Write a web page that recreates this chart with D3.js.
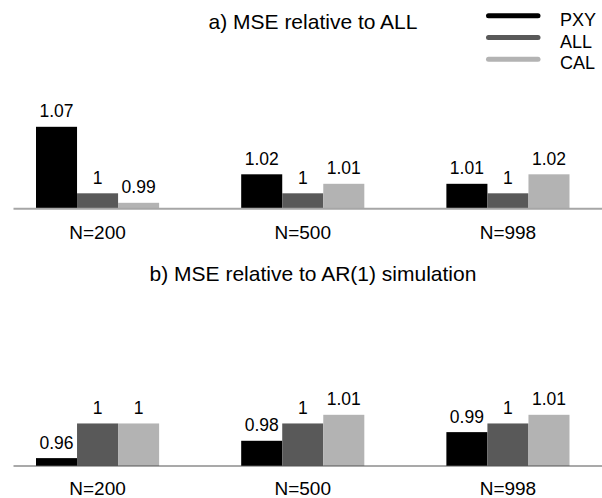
<!DOCTYPE html>
<html>
<head>
<meta charset="utf-8">
<script src="https://cdn.jsdelivr.net/npm/d3@7/dist/d3.min.js"></script>
<style>
  html, body { margin: 0; padding: 0; background: #fff; }
  svg { display: block; }
  text { font-family: "Liberation Sans", Arial, sans-serif; fill: #000; }
</style>
</head>
<body>
<svg id="chart" width="602" height="498"></svg>
<script>
// Sample sizes shown along each panel
const categories = ["N=200", "N=500", "N=998"];
// Methods compared, drawn left to right inside each group
const seriesNames = ["PXY", "ALL", "CAL"];
const seriesColors = ["#000000", "#595959", "#b3b3b3"];

// Panel a: MSE relative to ALL
const relAllPXY = [1.07, 1.02, 1.01];
const relAllALL = [1, 1, 1];
const relAllCAL = [0.99, 1.01, 1.02];

// Panel b: MSE relative to AR(1) simulation
const relArPXY = [0.96, 0.98, 0.99];
const relArALL = [1, 1, 1];
const relArCAL = [1, 1.01, 1.01];

const panelTitles = ["a) MSE relative to ALL", "b) MSE relative to AR(1) simulation"];

const svg = d3.select("#chart");
const W = 602;
const fmt = d3.format(".2~f");

const x0 = d3.scaleBand().domain(categories).range([36, 569.5]).paddingInner(0.4).paddingOuter(0);
const x1 = d3.scaleBand().domain(seriesNames).range([0, x0.bandwidth()]).padding(0);
const color = d3.scaleOrdinal().domain(seriesNames).range(seriesColors);

const panels = [
  {
    title: panelTitles[0], titleY: 28.5,
    series: [relAllPXY, relAllALL, relAllCAL],
    y: d3.scaleLinear().domain([0.9838, 1.07]).range([208.7, 126.8]),
    axisColor: "#a6a6a6", axisWidth: 2, catY: 239
  },
  {
    title: panelTitles[1], titleY: 281,
    series: [relArPXY, relArALL, relArCAL],
    y: d3.scaleLinear().domain([0.9509, 1.01]).range([466, 414.8]),
    axisColor: "#555555", axisWidth: 1.2, catY: 495
  }
];

panels.forEach(p => {
  const g = svg.append("g");
  const base = p.y.range()[0];

  g.append("text")
    .attr("x", 313).attr("y", p.titleY)
    .attr("text-anchor", "middle")
    .style("font-size", "21px")
    .text(p.title);

  const rows = categories.map((c, i) => ({
    cat: c,
    vals: seriesNames.map((s, j) => ({ name: s, value: p.series[j][i] }))
  }));

  const groups = g.selectAll("g.grp").data(rows).join("g")
    .attr("class", "grp")
    .attr("transform", d => `translate(${x0(d.cat)},0)`);

  groups.selectAll("rect").data(d => d.vals).join("rect")
    .attr("x", d => x1(d.name))
    .attr("width", x1.bandwidth())
    .attr("y", d => p.y(d.value))
    .attr("height", d => base - p.y(d.value))
    .attr("fill", d => color(d.name));

  groups.selectAll("text.val").data(d => d.vals).join("text")
    .attr("class", "val")
    .attr("x", d => x1(d.name) + x1.bandwidth() / 2)
    .attr("y", d => p.y(d.value) - 9.5)
    .attr("text-anchor", "middle")
    .style("font-size", "17.5px")
    .text(d => fmt(d.value));

  g.append("line")
    .attr("x1", 13.5).attr("x2", W)
    .attr("y1", base).attr("y2", base)
    .attr("stroke", p.axisColor)
    .attr("stroke-width", p.axisWidth);

  groups.append("text")
    .attr("x", x0.bandwidth() / 2)
    .attr("y", p.catY)
    .attr("text-anchor", "middle")
    .style("font-size", "19px")
    .text(d => d.cat);
});

// Legend
const legend = svg.append("g");
const legendY = d3.scalePoint().domain(seriesNames).range([15.7, 59.3]);
seriesNames.forEach(s => {
  legend.append("line")
    .attr("x1", 488.5).attr("x2", 538)
    .attr("y1", legendY(s)).attr("y2", legendY(s))
    .attr("stroke", color(s))
    .attr("stroke-width", 5)
    .attr("stroke-linecap", "round");
  legend.append("text")
    .attr("x", 560).attr("y", legendY(s) + 10)
    .style("font-size", "18px")
    .text(s);
});
</script>
</body>
</html>
